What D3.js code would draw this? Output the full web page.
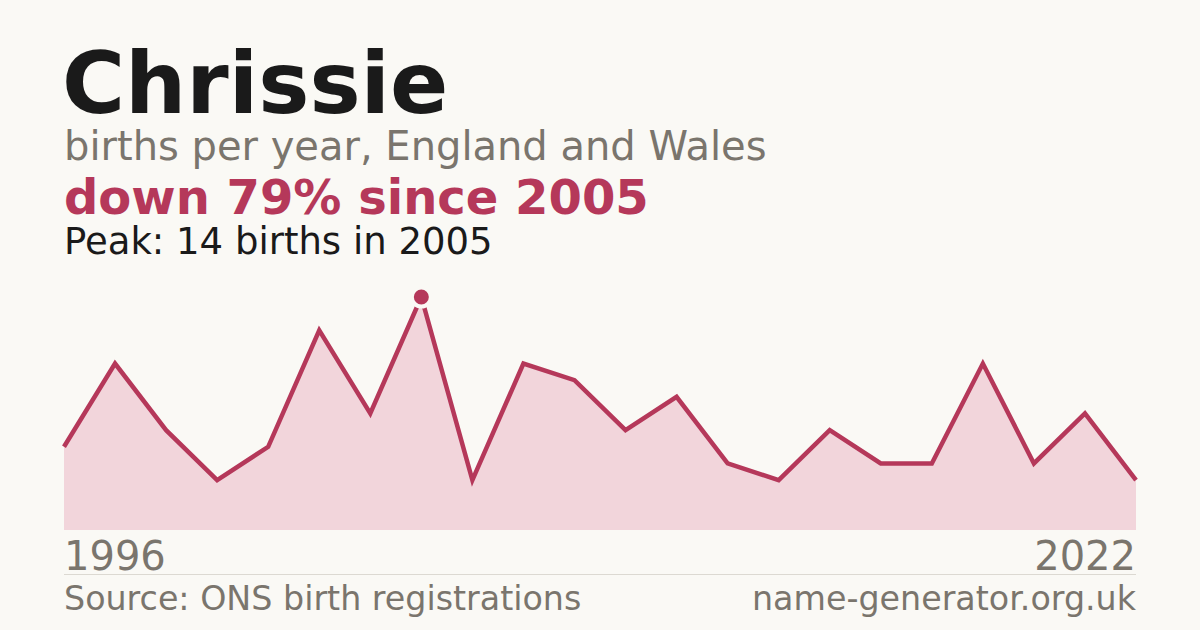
<!DOCTYPE html>
<html><head><meta charset="utf-8">
<script src="https://cdn.jsdelivr.net/npm/d3@7/dist/d3.min.js"></script>
<style>html,body{margin:0;padding:0;background:#faf9f5;}svg{display:block;}</style>
</head><body>
<svg id="c" width="1200" height="630"></svg>
<script>
const years = [1996,1997,1999,2000,2001,2002,2003,2005,2006,2007,2008,2009,2010,2011,2013,2014,2016,2017,2018,2019,2021,2022];
const births = [5,10,6,3,5,12,7,14,3,10,9,6,8,4,3,6,4,4,10,4,7,3];
const xLabels = ["1996","2022"];
const titleText = "Chrissie";
const subtitleText = "births per year, England and Wales";
const changeText = "down 79% since 2005";
const peakText = "Peak: 14 births in 2005";
const sourceText = "Source: ONS birth registrations";
const siteText = "name-generator.org.uk";

const svg = d3.select("#c");
const font = "DejaVu Sans, sans-serif";
const accent = "#b5385a";
const grey = "#7a756d";
svg.append("rect").attr("width",1200).attr("height",630).attr("fill","#faf9f5");

const x = d3.scalePoint().domain(d3.range(years.length)).range([64,1136]);
const y = d3.scaleLinear().domain([0,14]).range([530,297]);

const area = d3.area().x((d,i)=>x(i)).y0(y(0)).y1(d=>y(d));
svg.append("path").datum(births).attr("d",area).attr("fill","#f2d5db");
const line = d3.line().x((d,i)=>x(i)).y(d=>y(d));
svg.append("path").datum(births).attr("d",line).attr("fill","none")
  .attr("stroke",accent).attr("stroke-width",4.5).attr("stroke-linejoin","miter");

const pi = births.indexOf(d3.max(births));
svg.append("circle").attr("cx",x(pi)).attr("cy",y(births[pi])).attr("r",9.5)
  .attr("fill",accent).attr("stroke","#faf9f5").attr("stroke-width",4);

const t = (txt,xx,yy,size,weight,fill,anchor)=>svg.append("text").text(txt)
  .attr("x",xx).attr("y",yy).attr("font-family",font).attr("font-size",size)
  .attr("font-weight",weight).attr("fill",fill).attr("text-anchor",anchor||"start");
t(titleText,62,113,86,"bold","#1a1a1a");
t(subtitleText,64,160,40,"normal",grey);
t(changeText,64,214,48,"bold",accent);
t(peakText,64,254,37,"normal","#1a1a1a");
t(xLabels[0],64,570,40,"normal",grey);
t(xLabels[1],1136,570,40,"normal",grey,"end");
svg.append("line").attr("x1",64).attr("x2",1136).attr("y1",574.5).attr("y2",574.5)
  .attr("stroke","#dcd9d2").attr("stroke-width",1);
t(sourceText,64,610,33.3,"normal",grey);
t(siteText,1136,610,33.3,"normal",grey,"end");
</script>
</body></html>
